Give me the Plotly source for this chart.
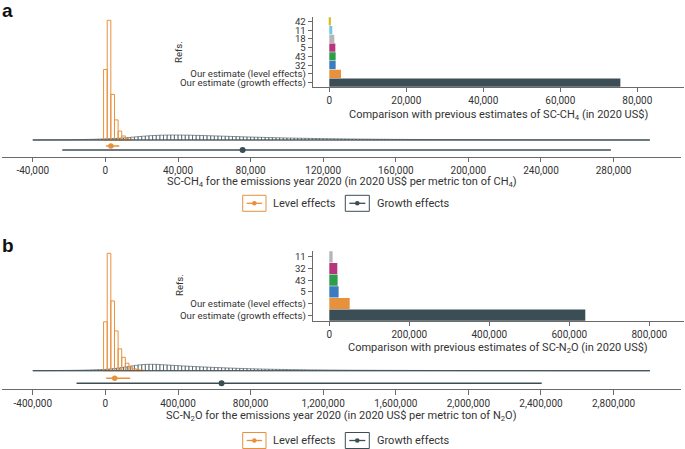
import plotly.graph_objects as go

W, H = 685, 449

# ---------------- data: panel a (CH4) ----------------
a_level_bin_start = -1000
a_level_bin_width = 2000
a_level_pct = [26.0, 44.1, 16.8, 7.4, 3.3, 1.5, 0.55, 0.2]

a_growth_bin_start = -40000
a_growth_bin_width = 2000
a_growth_pct = [
    0.03, 0.03, 0.04, 0.04, 0.05, 0.05, 0.06, 0.07, 0.08, 0.09,
    0.10, 0.12, 0.14, 0.16, 0.19, 0.22, 0.26, 0.30, 0.35, 0.40,
    0.45, 0.50, 0.56, 0.63, 0.72, 0.82, 0.94, 1.06, 1.18, 1.30,
    1.41, 1.51, 1.60, 1.67, 1.73, 1.78, 1.81, 1.83, 1.84, 1.84,
    1.83, 1.81, 1.79, 1.76, 1.73, 1.70, 1.66, 1.62, 1.58, 1.54,
    1.50, 1.46, 1.42, 1.37, 1.33, 1.29, 1.25, 1.20, 1.16, 1.12,
    1.08, 1.04, 1.00, 0.97, 0.93, 0.90, 0.86, 0.83, 0.80, 0.77,
    0.74, 0.71, 0.68, 0.66, 0.63, 0.61, 0.58, 0.56, 0.54, 0.52,
    0.50, 0.48, 0.46, 0.44, 0.43, 0.41, 0.40, 0.38, 0.37, 0.35,
    0.34, 0.33, 0.32, 0.30, 0.29, 0.28, 0.27, 0.26, 0.25, 0.24,
    0.23, 0.23, 0.22, 0.21, 0.20, 0.20, 0.19, 0.18, 0.18, 0.17,
    0.16, 0.16, 0.15, 0.15, 0.14, 0.14, 0.13, 0.13, 0.12, 0.12,
    0.12, 0.11, 0.11, 0.10, 0.10, 0.10, 0.09, 0.09, 0.09, 0.08,
    0.08, 0.08, 0.08, 0.07, 0.07, 0.07, 0.07, 0.06, 0.06, 0.06,
    0.06, 0.06, 0.05, 0.05, 0.05, 0.05, 0.05, 0.05, 0.04, 0.04,
    0.04, 0.04, 0.04, 0.04, 0.04, 0.03, 0.03, 0.03, 0.03, 0.03,
    0.03, 0.03, 0.03, 0.03, 0.02, 0.02, 0.02, 0.02, 0.02, 0.02,
]

a_level_ci = [330, 7660]
a_level_mean = 3040
a_growth_ci = [-23750, 278500]
a_growth_mean = 75600

a_refs = ["42", "11", "18", "5", "43", "32",
          "Our estimate (level effects)", "Our estimate (growth effects)"]
a_ref_values = [430, 780, 1300, 1570, 1650, 1650, 3040, 75600]

a_main_tickvals = [-40000, 0, 40000, 80000, 120000, 160000, 200000, 240000, 280000]
a_main_ticktext = ["-40,000", "0", "40,000", "80,000", "120,000", "160,000",
                   "200,000", "240,000", "280,000"]
a_inset_tickvals = [0, 20000, 40000, 60000, 80000]
a_inset_ticktext = ["0", "20,000", "40,000", "60,000", "80,000"]

# ---------------- data: panel b (N2O) ----------------
b_level_bin_start = -10000
b_level_bin_width = 20000
b_level_pct = [15.0, 36.0, 21.4, 12.2, 6.7, 4.1, 2.3, 1.2, 0.6, 0.3, 0.2]

b_growth_bin_start = -400000
b_growth_bin_width = 20000
b_growth_pct = [
    0.03, 0.03, 0.04, 0.04, 0.05, 0.05, 0.06, 0.07, 0.08, 0.09,
    0.10, 0.12, 0.14, 0.16, 0.19, 0.22, 0.26, 0.30, 0.34, 0.38,
    0.45, 0.55, 0.66, 0.80, 0.96, 1.14, 1.32, 1.50, 1.66, 1.80,
    1.90, 1.96, 1.98, 1.96, 1.92, 1.86, 1.79, 1.72, 1.65, 1.58,
    1.52, 1.46, 1.40, 1.34, 1.28, 1.23, 1.18, 1.13, 1.08, 1.03,
    0.98, 0.94, 0.89, 0.85, 0.81, 0.77, 0.73, 0.69, 0.66, 0.62,
    0.59, 0.56, 0.53, 0.50, 0.48, 0.45, 0.43, 0.41, 0.39, 0.37,
    0.35, 0.33, 0.32, 0.30, 0.29, 0.27, 0.26, 0.25, 0.24, 0.23,
    0.22, 0.21, 0.20, 0.19, 0.18, 0.17, 0.17, 0.16, 0.15, 0.15,
    0.14, 0.14, 0.13, 0.13, 0.12, 0.12, 0.11, 0.11, 0.10, 0.10,
    0.10, 0.09, 0.09, 0.09, 0.08, 0.08, 0.08, 0.08, 0.07, 0.07,
    0.07, 0.07, 0.06, 0.06, 0.06, 0.06, 0.06, 0.05, 0.05, 0.05,
    0.05, 0.05, 0.05, 0.04, 0.04, 0.04, 0.04, 0.04, 0.04, 0.04,
    0.03, 0.03, 0.03, 0.03, 0.03, 0.03, 0.03, 0.03, 0.03, 0.03,
    0.03, 0.03, 0.02, 0.02, 0.02, 0.02, 0.02, 0.02, 0.02, 0.02,
    0.02, 0.02, 0.02, 0.02, 0.02, 0.02, 0.02, 0.02, 0.02, 0.02,
    0.02, 0.02, 0.02, 0.02, 0.02, 0.02, 0.02, 0.02, 0.02, 0.02,
]

b_level_ci = [4400, 136600]
b_level_mean = 51000
b_growth_ci = [-159000, 2404000]
b_growth_mean = 640000

b_refs = ["11", "32", "43", "5",
          "Our estimate (level effects)", "Our estimate (growth effects)"]
b_ref_values = [8300, 20000, 20800, 23300, 51000, 640000]

b_main_tickvals = [-400000, 0, 400000, 800000, 1200000, 1600000, 2000000, 2400000, 2800000]
b_main_ticktext = ["-400,000", "0", "400,000", "800,000", "1,200,000", "1,600,000",
                   "2,000,000", "2,400,000", "2,800,000"]
b_inset_tickvals = [0, 200000, 400000, 600000, 800000]
b_inset_ticktext = ["0", "200,000", "400,000", "600,000", "800,000"]

# ---------------- styles ----------------
ORANGE = "#E8913D"
DARK = "#3C4E55"
# bar colours by position counted from the bottom of the inset
PALETTE_FROM_BOTTOM = [DARK, ORANGE, "#3B7BBE", "#2E9C4B", "#B6357C",
                       "#B5B5B5", "#6EC6EA", "#D2BE2A"]
TEXT = "#333333"
AXIS = "#6a6a6a"
FONT = "Roboto"


def px_x(p):
    return p / W


def px_y(p):
    return 1 - p / H


def centers(start, width, n):
    return [start + width * (i + 0.5) for i in range(n)]


fig = go.Figure()


def add_panel(k, level_start, level_w, level_pct, growth_start, growth_w, growth_pct,
              level_ci, level_mean, growth_ci, growth_mean, refs, ref_values,
              level_ci_y, growth_ci_y):
    xa = "x" if k == 1 else "x%d" % k
    ya = "y" if k == 1 else "y%d" % k
    xi = "x%d" % (k + 1)
    yi = "y%d" % (k + 1)
    n_g = len(growth_pct)
    fig.add_trace(go.Bar(
        x=centers(growth_start, growth_w, n_g), y=growth_pct, width=growth_w,
        marker=dict(color="rgba(0,0,0,0)", line=dict(color=DARK, width=0.6)),
        xaxis=xa, yaxis=ya, hoverinfo="skip"))
    fig.add_trace(go.Scatter(
        x=[growth_start, growth_start + growth_w * n_g], y=[0, 0], mode="lines",
        line=dict(color=DARK, width=1.1), xaxis=xa, yaxis=ya, hoverinfo="skip"))
    fig.add_trace(go.Bar(
        x=centers(level_start, level_w, len(level_pct)), y=level_pct, width=level_w,
        marker=dict(color="rgba(0,0,0,0)", line=dict(color=ORANGE, width=1)),
        xaxis=xa, yaxis=ya, hoverinfo="skip"))
    # intervals
    fig.add_trace(go.Scatter(
        x=level_ci, y=[level_ci_y, level_ci_y], mode="lines",
        line=dict(color=ORANGE, width=1.5), xaxis=xa, yaxis=ya))
    fig.add_trace(go.Scatter(
        x=[level_mean], y=[level_ci_y], mode="markers",
        marker=dict(color=ORANGE, size=5.5), xaxis=xa, yaxis=ya))
    fig.add_trace(go.Scatter(
        x=growth_ci, y=[growth_ci_y, growth_ci_y], mode="lines",
        line=dict(color=DARK, width=1.5), xaxis=xa, yaxis=ya))
    fig.add_trace(go.Scatter(
        x=[growth_mean], y=[growth_ci_y], mode="markers",
        marker=dict(color=DARK, size=6), xaxis=xa, yaxis=ya))
    # inset bars
    n = len(refs)
    colors = [PALETTE_FROM_BOTTOM[n - 1 - i] for i in range(n)]
    fig.add_trace(go.Bar(
        x=ref_values, y=refs, orientation="h", width=0.96,
        marker=dict(color=colors, line=dict(width=0)),
        xaxis=xi, yaxis=yi))


add_panel(1, a_level_bin_start, a_level_bin_width, a_level_pct,
          a_growth_bin_start, a_growth_bin_width, a_growth_pct,
          a_level_ci, a_level_mean, a_growth_ci, a_growth_mean,
          a_refs, a_ref_values, -2.21, -3.68)
add_panel(3, b_level_bin_start, b_level_bin_width, b_level_pct,
          b_growth_bin_start, b_growth_bin_width, b_growth_pct,
          b_level_ci, b_level_mean, b_growth_ci, b_growth_mean,
          b_refs, b_ref_values, -2.33, -3.86)

tickfont = dict(family=FONT, size=10, color=TEXT)


def main_x(domain, rng, tv, tt, anchor, ticklen=4.5):
    return dict(domain=domain, range=rng, anchor=anchor, showline=True, linecolor=AXIS,
                linewidth=1, ticks="outside", ticklen=ticklen, tickcolor=AXIS, tickwidth=1,
                tickmode="array", tickvals=tv, ticktext=tt, tickfont=tickfont,
                showgrid=False, zeroline=False, fixedrange=True)


def inset_y(domain, refs, anchor):
    return dict(domain=domain, type="category", categoryorder="array",
                categoryarray=refs, range=[len(refs) - 0.5, -0.5], anchor=anchor,
                tickmode="array", tickvals=refs, ticktext=refs,
                showline=True, linecolor=AXIS, linewidth=1, ticks="outside",
                ticklen=4, tickcolor=AXIS, tickfont=dict(family=FONT, size=9.6, color=TEXT),
                showgrid=False, zeroline=False, automargin=False)


X0, X1 = px_x(2), px_x(681)
IX0, IX1 = px_x(312.7), px_x(684)

fig.update_layout(
    width=W, height=H, margin=dict(l=0, r=0, t=0, b=0, autoexpand=False),
    paper_bgcolor="white", plot_bgcolor="rgba(0,0,0,0)",
    showlegend=False, barmode="overlay",
    xaxis=main_x([X0, X1], [-56970, 317140], a_main_tickvals, a_main_ticktext, "y"),
    yaxis=dict(domain=[px_y(156.7), px_y(10)], range=[-6.15, 47.9], visible=False,
               anchor="x"),
    xaxis2=main_x([IX0, IX1], [-4310, 92130], a_inset_tickvals, a_inset_ticktext, "y2", 4),
    yaxis2=inset_y([px_y(87), px_y(17)], a_refs, "x2"),
    xaxis3=main_x([X0, X1], [-569700, 3171400], b_main_tickvals, b_main_ticktext, "y3"),
    yaxis3=dict(domain=[px_y(389.3), px_y(245)], range=[-5.70, 38.55], visible=False,
                anchor="x3"),
    xaxis4=main_x([IX0, IX1], [-41500, 886750], b_inset_tickvals, b_inset_ticktext, "y4", 4),
    yaxis4=inset_y([px_y(321), px_y(251)], b_refs, "x4"),
)

ann = []


def text(x, y, s, size=11, xanchor="center", angle=0, bold=False, family=FONT):
    ann.append(dict(x=px_x(x), y=px_y(y), xref="paper", yref="paper", text=s,
                    showarrow=False, xanchor=xanchor, yanchor="middle", textangle=angle,
                    font=dict(family=family, size=size, color="#111111" if bold else TEXT)))


text(0, 10.5, "<b>a</b>", size=19, xanchor="left", bold=True, family="Liberation Sans")
text(0, 245.5, "<b>b</b>", size=19, xanchor="left", bold=True, family="Liberation Sans")
text(179, 52, "Refs.", size=9.6, angle=-90)
text(179, 285, "Refs.", size=9.6, angle=-90)
text(498.4, 115, "Comparison with previous estimates of SC-CH<sub>4</sub> (in 2020 US$)")
text(498.4, 348.3, "Comparison with previous estimates of SC-N<sub>2</sub>O (in 2020 US$)")
text(341.5, 182, "SC-CH<sub>4</sub> for the emissions year 2020 (in 2020 US$ per metric ton of CH<sub>4</sub>)")
text(341.5, 415.5, "SC-N<sub>2</sub>O for the emissions year 2020 (in 2020 US$ per metric ton of N<sub>2</sub>O)")

shapes = []


def legend(yc):
    for (bx0, bx1, col, label, tx) in [(242.7, 266, ORANGE, "Level effects", 270.5),
                                        (345.3, 369.3, DARK, "Growth effects", 374.5)]:
        shapes.append(dict(type="rect", xref="paper", yref="paper",
                           x0=px_x(bx0), x1=px_x(bx1), y0=px_y(yc + 8), y1=px_y(yc - 8),
                           line=dict(color=col, width=1), fillcolor="rgba(0,0,0,0)"))
        shapes.append(dict(type="line", xref="paper", yref="paper",
                           x0=px_x(bx0 + 4), x1=px_x(bx1 - 4), y0=px_y(yc), y1=px_y(yc),
                           line=dict(color=col, width=1.3)))
        cx = (bx0 + bx1) / 2
        shapes.append(dict(type="circle", xref="paper", yref="paper",
                           x0=px_x(cx - 2.3), x1=px_x(cx + 2.3),
                           y0=px_y(yc + 2.3), y1=px_y(yc - 2.3),
                           line=dict(color=col, width=0), fillcolor=col))
        text(tx, yc, label, size=11, xanchor="left")


legend(203.3)
legend(440.5)

fig.update_layout(annotations=ann, shapes=shapes)
fig.write_html(
    "out.html",
    config={"displayModeBar": False},
    post_script="document.body.style.margin='0px';document.body.style.padding='0px';",
)
